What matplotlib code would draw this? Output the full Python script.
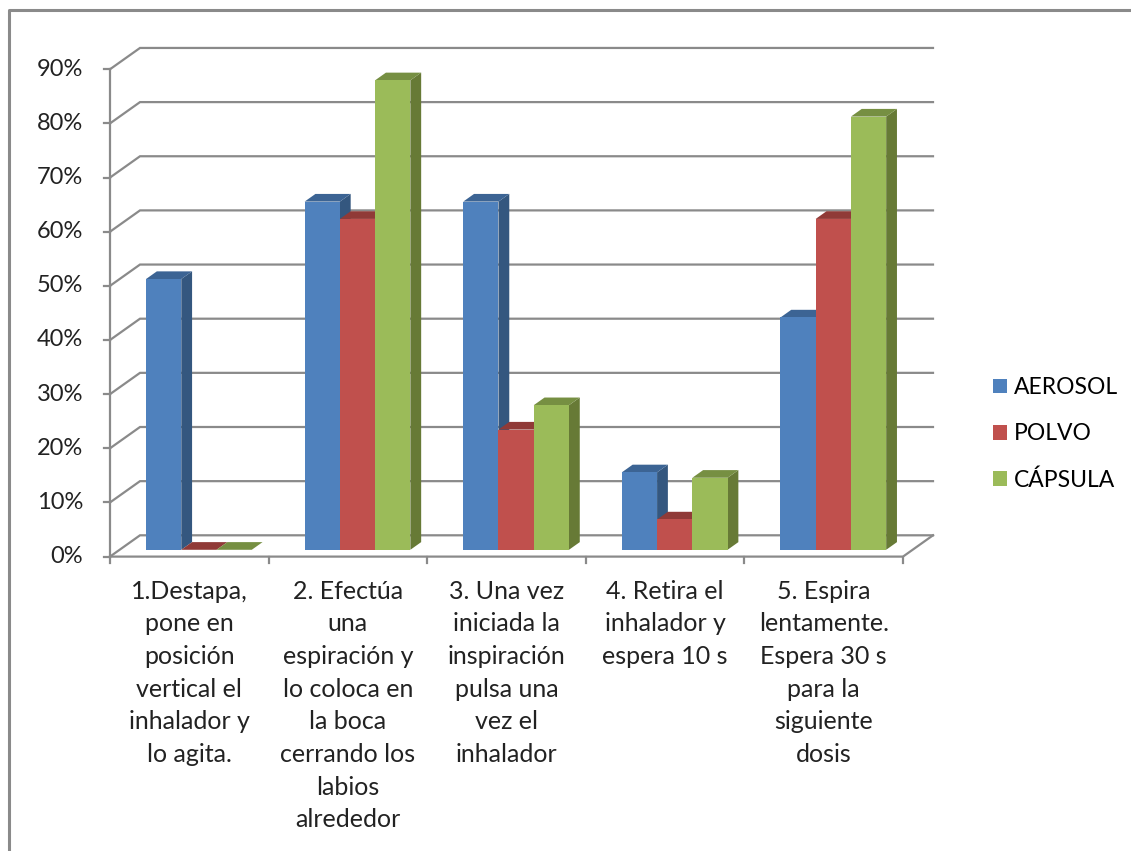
import numpy as np
import matplotlib.pyplot as plt
from matplotlib.patches import Polygon, Patch
from matplotlib.lines import Line2D

# data
categories = ["1.Destapa,\npone en\nposición\nvertical el\ninhalador y\nlo agita.",
              "2. Efectúa\nuna\nespiración y\nlo coloca en\nla boca\ncerrando los\nlabios\nalrededor",
              "3. Una vez\niniciada la\ninspiración\npulsa una\nvez el\ninhalador",
              "4. Retira el\ninhalador y\nespera 10 s",
              "5. Espira\nlentamente.\nEspera 30 s\npara la\nsiguiente\ndosis"]
series = ["AEROSOL", "POLVO", "CÁPSULA"]
aerosol = [0.500, 0.643, 0.643, 0.143, 0.429]
polvo = [0.000, 0.611, 0.222, 0.056, 0.611]
capsula = [0.000, 0.867, 0.267, 0.133, 0.800]
yticks = [0.0, 0.1, 0.2, 0.3, 0.4, 0.5, 0.6, 0.7, 0.8, 0.9]

# face colours: front, side, top
front_cols = ["#4f81bd", "#c0504d", "#9bbb59"]
side_cols = ["#34577f", "#8c3634", "#677a36"]
top_cols = ["#3c6494", "#903a37", "#768f42"]
grid_col = "#8a8a8a"
text_col = "#222222"

plt.rcParams['font.family'] = ['Lato', 'DejaVu Sans']

W, H = 1131, 851
fig = plt.figure(figsize=(W / 100, H / 100), dpi=100)

# pixel layout of the front plane: x0 px, px per category, y0 px, px per unit
x0_px, cat_px = 110, 158.6
y0_px, unit_px = 556.6, 541.5
ax = fig.add_axes([0, 0, 1, 1])
ax.set_xlim(-x0_px / cat_px, (W - x0_px) / cat_px)
ax.set_ylim((y0_px - H) / unit_px, y0_px / unit_px)
ax.axis('off')

# full depth of the chart box, in data units
ddx, ddy = 30 / cat_px, 21.3 / unit_px
ncat = len(categories)

# back wall and side wall gridlines
for v in yticks:
    ax.plot([0, ddx, ncat + ddx], [v, v + ddy, v + ddy], color=grid_col, lw=1.6,
            solid_joinstyle='miter', zorder=1)
# floor
ax.plot([0, ncat, ncat + ddx], [0, 0, ddy], color=grid_col, lw=1.6, zorder=1)
# front value axis with ticks
ax.plot([0, 0], [0, yticks[-1]], color=grid_col, lw=1.6, zorder=1)
tick_dx = 6 / cat_px
tick_dy = 6 / unit_px
for v in yticks:
    ax.plot([-tick_dx, 0], [v, v], color=grid_col, lw=1.6, zorder=1)
    ax.text(-27 / cat_px, v, f"{v * 100:.0f}%", ha='right', va='center',
            fontsize=17, color=text_col)
for i in range(ncat + 1):
    ax.plot([i, i], [0, -tick_dy], color=grid_col, lw=1.6, zorder=1)

# category labels
for i, lab in enumerate(categories):
    ax.text(i + 0.5, -23 / unit_px, lab, ha='center', va='top', fontsize=18,
            linespacing=1.51, color=text_col)

# 3d columns: front face at 32% of the box depth, back face at 68%
w = 1 / 4.5
f_front, f_back = 0.32, 0.68
fx, fy = f_front * ddx, f_front * ddy
bx, by = f_back * ddx, f_back * ddy
values = [aerosol, polvo, capsula]
for i in range(ncat):
    for j in range(3):
        v = values[j][i]
        left = i + 0.75 * w + j * w
        z = 3 + j
        side = [(left + fx + w, fy), (left + fx + w, v + fy),
                (left + bx + w, v + by), (left + bx + w, by)]
        top = [(left + fx, v + fy), (left + fx + w, v + fy),
               (left + bx + w, v + by), (left + bx, v + by)]
        ax.add_patch(Polygon(side, closed=True, facecolor=side_cols[j],
                             edgecolor='none', zorder=z))
        ax.add_patch(Polygon(top, closed=True, facecolor=top_cols[j],
                             edgecolor='none', zorder=z))
        if v > 0:
            ax.bar(left + fx, v, width=w, bottom=fy, align='edge',
                   color=front_cols[j], edgecolor='none', zorder=z)

# legend
handles = [Patch(facecolor=c, edgecolor='none') for c in front_cols]
fig.legend(handles, series, loc='center left',
           bbox_to_anchor=(972 / W, 1 - 434 / H), frameon=False,
           fontsize=16.5, handlelength=0.62, handleheight=0.62,
           handletextpad=0.3, labelspacing=1.1)

# chart border (top and left edges only are inside the image)
fig.lines.append(Line2D([9 / W, 9 / W, 1.0], [0.0, 1 - 10 / H, 1 - 10 / H],
                        transform=fig.transFigure, color=grid_col, lw=2.2))

fig.savefig('out.png', dpi=100)
